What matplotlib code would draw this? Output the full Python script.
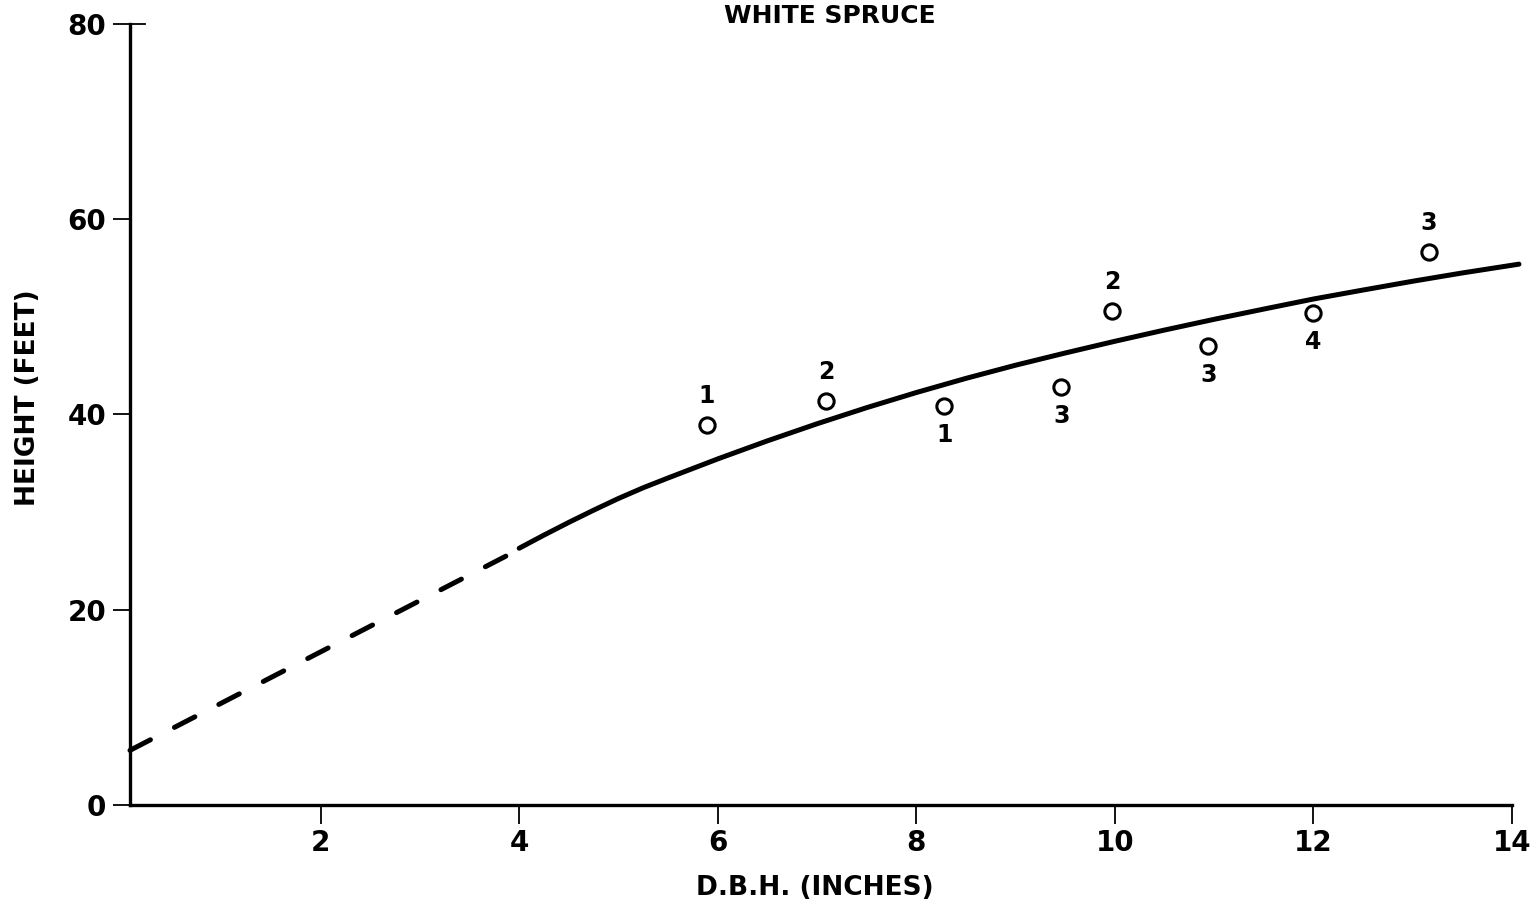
import matplotlib
matplotlib.use("Agg")
import matplotlib.pyplot as plt

# Observed mean heights by diameter class, with sample counts
dbh = [5.89, 7.09, 8.28, 9.46, 9.97, 10.94, 12.0, 13.16]
height = [38.9, 41.4, 40.9, 42.8, 50.6, 47.0, 50.4, 56.6]
counts = ["1", "2", "1", "3", "2", "3", "4", "3"]
label_above = [True, True, False, False, True, False, False, True]

# Extrapolated (dashed) part of the height curve
dash_x = [0.08, 4.02]
dash_y = [5.6, 26.3]

# Fitted height curve (solid)
curve_x = [4.0, 4.25, 4.5, 4.75, 5.0, 5.25, 5.5, 6.0, 6.5, 7.0, 7.5, 8.0,
           8.5, 9.0, 9.5, 10.0, 10.5, 11.0, 11.5, 12.0, 12.5, 13.0, 13.5,
           14.07]
curve_y = [26.3, 27.65, 28.95, 30.2, 31.4, 32.5, 33.5, 35.45, 37.3, 39.05,
           40.7, 42.25, 43.7, 45.05, 46.3, 47.5, 48.65, 49.75, 50.8, 51.83,
           52.75, 53.65, 54.5, 55.4]

x_ticks = [2, 4, 6, 8, 10, 12, 14]
y_ticks = [0, 20, 40, 60, 80]

plt.rcParams['font.family'] = ['DejaVu Sans']
plt.rcParams['font.weight'] = 'bold'

fig = plt.figure(figsize=(15.33, 9.09), dpi=100)
ax = fig.add_axes([130 / 1533, 104 / 909, 1382 / 1533, 781 / 909])
ax.set_xlim(0.08, 14.0)
ax.set_ylim(0, 80)

ax.plot(dash_x, dash_y, color='black', lw=3.6, dashes=(4.6, 5.4),
        dash_capstyle='round', clip_on=False)
ax.plot(curve_x, curve_y, color='black', lw=3.6, solid_capstyle='round',
        solid_joinstyle='round', clip_on=False)
ax.plot(dbh, height, 'o', ms=11, mfc='white', mec='black', mew=2.2, zorder=3)

for x, y, n, up in zip(dbh, height, counts, label_above):
    ax.annotate(n, (x, y), xytext=(0, 21 if up else -21),
                textcoords='offset points', ha='center', va='center',
                fontsize=17, fontweight='bold')

for s in ['top', 'right']:
    ax.spines[s].set_visible(False)
for s in ['left', 'bottom']:
    ax.spines[s].set_linewidth(2.4)

ax.set_xticks(x_ticks)
ax.set_yticks(y_ticks)
ax.set_xticklabels([str(v) for v in x_ticks])
ax.set_yticklabels([str(v) for v in y_ticks])
ax.tick_params(axis='x', direction='out', length=14, width=1.3, pad=3,
               labelsize=20)
ax.tick_params(axis='y', direction='out', length=12, width=1.3, pad=5,
               labelsize=20)
for lab in ax.get_xticklabels() + ax.get_yticklabels():
    lab.set_fontweight('bold')

# small cap on the top of the height axis
ax.plot([0.08, 0.23], [80, 80], color='black', lw=1.3, clip_on=False)

fig.text(830 / 1533, 1 - 16 / 909, "WHITE SPRUCE", ha='center', va='center',
         fontsize=18, fontweight='bold')
fig.text(815 / 1533, 1 - 888 / 909, "D.B.H. (INCHES)", ha='center',
         va='center', fontsize=19, fontweight='bold')
fig.text(28 / 1533, 1 - 398 / 909, "HEIGHT (FEET)", ha='center', va='center',
         rotation=90, fontsize=19, fontweight='bold')

fig.savefig("out.png", dpi=100)
